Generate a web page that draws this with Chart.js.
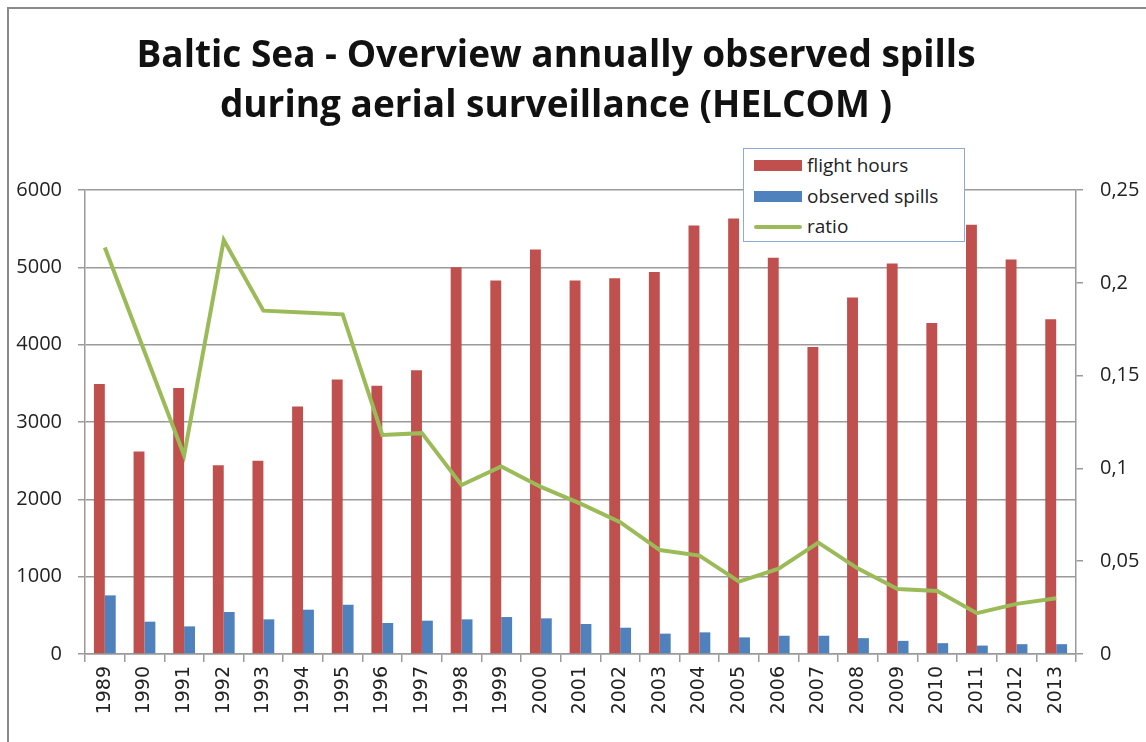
<!DOCTYPE html>
<html>
<head>
<meta charset="utf-8">
<title>Baltic Sea - observed spills</title>
<script src="https://cdn.jsdelivr.net/npm/chart.js@4/dist/chart.umd.min.js"></script>
<style>
    html, body { margin: 0; padding: 0; background: #fff; }
    #page { position: relative; width: 1146px; height: 742px; overflow: hidden; font-family: "Open Sans", sans-serif; }
    #frame { position: absolute; left: 7px; top: 7px; right: -4px; bottom: -4px; border-left: 2px solid #8a8a8a; border-top: 2px solid #8a8a8a; }
    #salesChart { position: absolute; left: 0; top: 0; }
    .title { position: absolute; left: 0; width: 1112px; text-align: center; font-weight: bold; font-size: 37px; line-height: 50px; color: #111; white-space: nowrap; }
    #legend { position: absolute; left: 743px; top: 148px; width: 222px; height: 94px; border: 1px solid #8eaadb; background: #fff; box-sizing: border-box; }
    .row { position: absolute; left: 0; height: 30px; font-size: 19px; color: #222; line-height: 30px; }
    .row span.sw { position: absolute; left: 10px; width: 48px; }
    .row span.txt { position: absolute; left: 63px; white-space: nowrap; }
</style>
</head>
<body>
<div id="page">
    <div id="frame"></div>
    <canvas id="salesChart" width="1146" height="742"></canvas>
    <div class="title" style="top:28px;">Baltic Sea - Overview annually observed spills</div>
    <div class="title" style="top:78px;">during aerial surveillance (HELCOM )</div>
    <div id="legend">
        <div class="row" style="top:1px;"><span class="sw" style="top:10px;height:11px;background:#C0504D;"></span><span class="txt">flight hours</span></div>
        <div class="row" style="top:32px;"><span class="sw" style="top:10px;height:11px;background:#4F81BD;"></span><span class="txt">observed spills</span></div>
        <div class="row" style="top:62px;"><span class="sw" style="top:14px;height:4px;border-radius:2px;background:#9BBB59;"></span><span class="txt">ratio</span></div>
    </div>
</div>
<script>
// Chart data
const years = ['1989', '1990', '1991', '1992', '1993', '1994', '1995', '1996', '1997', '1998', '1999', '2000', '2001',
    '2002', '2003', '2004', '2005', '2006', '2007', '2008', '2009', '2010', '2011', '2012', '2013'];
const flightHours = [3490, 2620, 3440, 2440, 2500, 3200, 3550, 3470, 3670, 5000, 4830, 5230, 4830,
    4860, 4940, 5540, 5630, 5125, 3970, 4610, 5050, 4280, 5550, 5100, 4330];
const observedSpills = [758, 418, 357, 543, 448, 573, 637, 401, 431, 448, 478, 461, 388,
    340, 263, 280, 215, 236, 236, 205, 170, 140, 109, 127, 127];
const ratio = [0.219, 0.163, 0.107, 0.223, 0.185, 0.184, 0.183, 0.118, 0.119, 0.091, 0.101, 0.090, 0.081,
    0.071, 0.056, 0.053, 0.039, 0.046, 0.060, 0.046, 0.035, 0.034, 0.022, 0.027, 0.030];

const gridColor = '#9a9a9a';
const tickFont = { family: '"Open Sans", sans-serif', size: 20 };

// Function to render the spills chart
function renderSpillsChart() {
    const ctx = document.getElementById('salesChart').getContext('2d');

    try {
        new Chart(ctx, {
            type: 'bar',
            data: {
                labels: years,
                datasets: [{
                    type: 'line',
                    label: 'ratio',
                    data: ratio,
                    yAxisID: 'y1',
                    borderColor: '#9BBB59',
                    borderWidth: 4,
                    pointRadius: 0,
                    tension: 0,
                    order: 0
                }, {
                    label: 'flight hours',
                    data: flightHours,
                    backgroundColor: '#C0504D',
                    categoryPercentage: 0.55,
                    barPercentage: 1.0,
                    order: 1
                }, {
                    label: 'observed spills',
                    data: observedSpills,
                    backgroundColor: '#4F81BD',
                    categoryPercentage: 0.55,
                    barPercentage: 1.0,
                    order: 1
                }]
            },
            options: {
                responsive: false,
                animation: false,
                layout: { padding: { top: 190, left: 0, right: 0, bottom: 0 } },
                plugins: {
                    legend: { display: false },
                    title: { display: false },
                    tooltip: { enabled: false }
                },
                scales: {
                    x: {
                        grid: { drawOnChartArea: false, color: gridColor, tickLength: 8, lineWidth: 1.5 },
                        border: { color: gridColor, width: 1.5 },
                        ticks: { color: '#222', font: { family: '"DejaVu Sans", sans-serif', size: 19 }, minRotation: 90, maxRotation: 90, padding: 4 },
                        afterFit: scale => { scale.height = 88; }
                    },
                    y: {
                        position: 'left',
                        min: 0,
                        max: 6000,
                        ticks: { stepSize: 1000, color: '#222', font: tickFont, padding: 16, callback: value => String(value) },
                        grid: { color: gridColor, tickLength: 7, lineWidth: 1.5 },
                        border: { color: gridColor, width: 1.5 },
                        afterFit: scale => { scale.width = 85; }
                    },
                    y1: {
                        position: 'right',
                        min: 0,
                        max: 0.25,
                        ticks: {
                            stepSize: 0.05,
                            color: '#222',
                            font: tickFont,
                            padding: 17,
                            callback: value => String(Number(value.toFixed(2))).replace('.', ',')
                        },
                        grid: { drawOnChartArea: false, color: gridColor, tickLength: 7, lineWidth: 1.5 },
                        border: { color: gridColor, width: 1.5 },
                        afterFit: scale => { scale.width = 70; }
                    }
                }
            }
        });
    } catch (error) {
        console.error('Error rendering chart:', error);
    }
}

window.onload = function() {
    renderSpillsChart();
};
</script>
</body>
</html>
